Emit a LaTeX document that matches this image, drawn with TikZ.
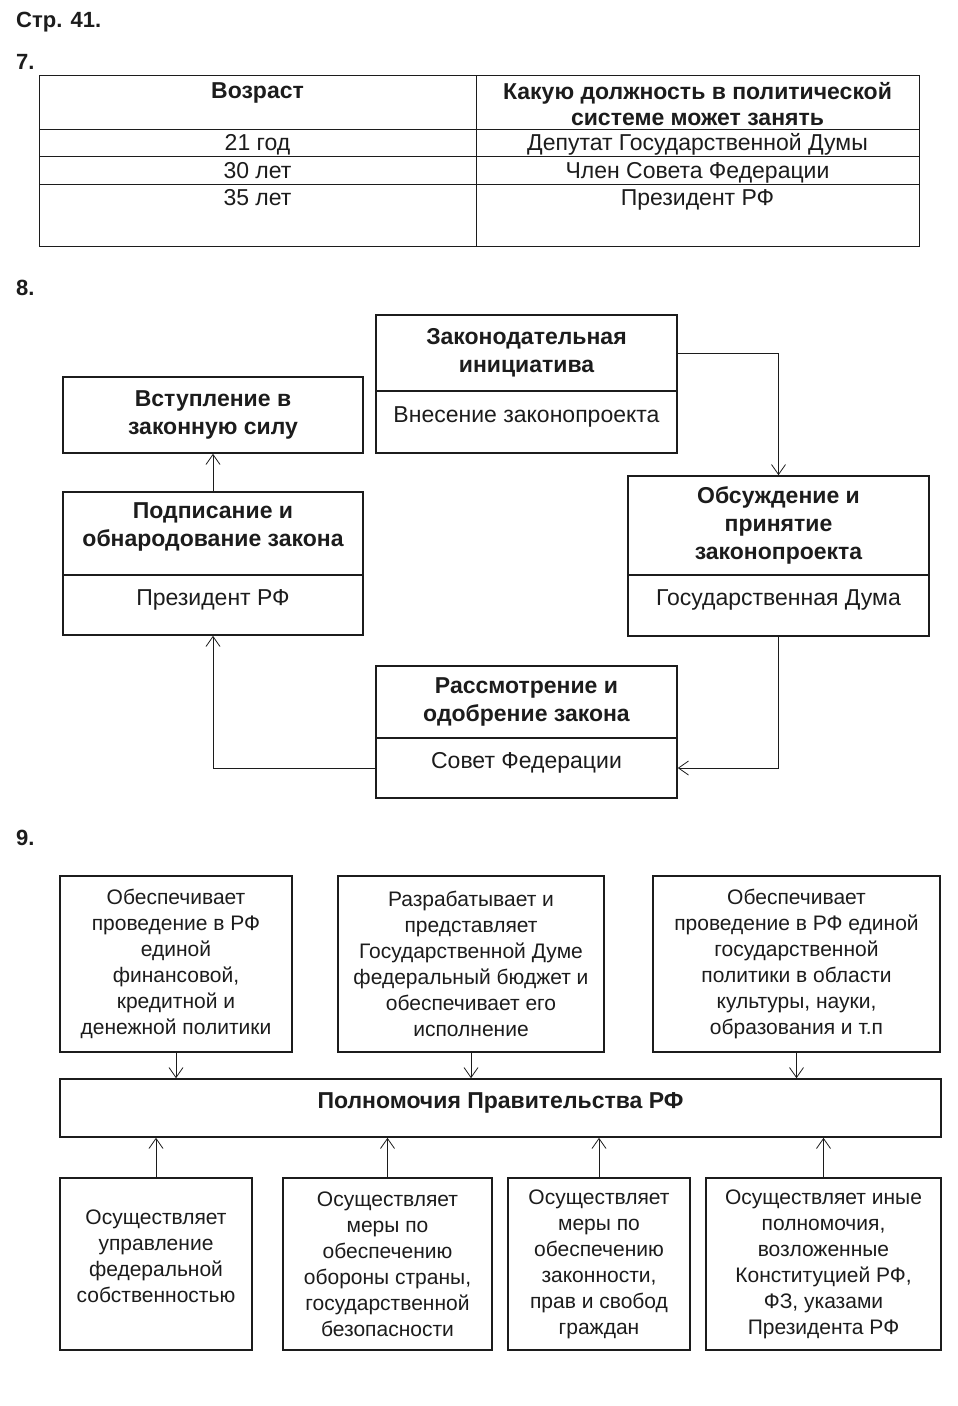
\documentclass[tikz,border=0pt]{standalone}
\usepackage{fontspec}
\setmainfont{Liberation Sans}
\usetikzlibrary{arrows.meta, positioning}
\definecolor{zink}{RGB}{28, 28, 28}

\begin{document}
\begin{tikzpicture}[x=1pt, y=-1pt,
  box/.style={rectangle, draw=zink, line width=1.6pt, inner sep=0pt,
              align=center, text=zink, font=\fontsize{23}{27}\selectfont},
  title/.style={box, font=\fontsize{23}{28}\selectfont\bfseries},
  body/.style={box, text height=16pt, text depth=16pt},
  duty/.style={box, font=\fontsize{21}{26}\selectfont},
  txt/.style={inner sep=0pt, align=center, text=zink, font=\fontsize{23}{27}\selectfont},
  cell/.style={txt, text height=16pt, text depth=5pt},
  head/.style={txt, font=\fontsize{23}{26}\selectfont\bfseries},
  num/.style={inner sep=0pt, anchor=west, text=zink, font=\fontsize{22}{25}\selectfont\bfseries},
  grid/.style={draw=zink, line width=1pt},
  arr/.style={-{Straight Barb[length=10pt, width=14pt]}, line width=0.8pt, draw=zink}
]
\useasboundingbox[fill=white] (0,0) rectangle (958,1406);

% page and task numbers
\node[num] (page) at (16,22) {Стр. 41.};
\node[num] (n7) at (16,62) {7.};
\node[num] (n8) at (16,288) {8.};
\node[num] (n9) at (16,838) {9.};

% task 7: table
\draw[grid] (39,75) rectangle (919,246);
\draw[grid] (476,75) -- (476,246);
\foreach \y in {129,156,184}
  \draw[grid] (39,\y) -- (919,\y);
\node[head, text height=16pt, text depth=5pt] (age) at (257.5,93) {Возраст};
\node[head] (post) at (697.5,104) {Какую должность в политической\\системе может занять};
\node[cell] (a21) at (257.5,145) {21 год};
\node[cell] (a30) at (257.5,173) {30 лет};
\node[cell] (a35) at (257.5,200) {35 лет};
\node[cell] (p21) at (697.5,145) {Депутат Государственной Думы};
\node[cell] (p30) at (697.5,173) {Член Совета Федерации};
\node[cell] (p35) at (697.5,200) {Президент РФ};

% task 8: how a law is passed
\node[title, minimum width=301pt, minimum height=76pt] (initT) at (526.5,353) {Законодательная\\инициатива};
\node[body, minimum width=301pt, minimum height=62pt] (initB) at (526.5,422) {Внесение законопроекта};
\node[title, minimum width=300pt, minimum height=76pt] (force) at (213,415) {Вступление в\\законную силу};
\node[box, minimum width=300pt, minimum height=83pt] (signT) at (213,533.5) {};
\node[head] (signL) at (213,527) {Подписание и\\[2pt]обнародование закона};
\node[body, minimum width=300pt, minimum height=60pt] (signB) at (213,605) {Президент РФ};
\node[title, minimum width=301pt, minimum height=99pt] (dumaT) at (778.5,525.5) {Обсуждение и\\принятие\\законопроекта};
\node[body, minimum width=301pt, minimum height=61pt] (dumaB) at (778.5,605.5) {Государственная Дума};
\node[title, minimum width=301pt, minimum height=72pt] (sovT) at (526.5,702) {Рассмотрение и\\одобрение закона};
\node[body, minimum width=301pt, minimum height=60pt] (sovB) at (526.5,768) {Совет Федерации};

\draw[arr] (initT.east) -| (dumaT.north);
\draw[arr] (dumaB.south) |- (sovB.east);
\draw[arr] (sovB.west) -| (signB.south);
\draw[arr] (signT.north) -- (force.south);

% task 9: powers of the government
\node[duty, minimum width=232pt, minimum height=176pt] (fin) at (176,964) {Обеспечивает\\проведение в РФ\\единой\\финансовой,\\кредитной и\\денежной политики};
\node[duty, minimum width=266pt, minimum height=176pt] (budget) at (471,964) {Разрабатывает и\\представляет\\Государственной Думе\\федеральный бюджет и\\обеспечивает его\\исполнение};
\node[duty, minimum width=287pt, minimum height=176pt] (culture) at (796.5,964) {Обеспечивает\\проведение в РФ единой\\государственной\\политики в области\\культуры, науки,\\образования и т.п};
\node[body, font=\fontsize{23}{26}\selectfont\bfseries, minimum width=881pt, minimum height=58pt] (gov) at (500.5,1108) {Полномочия Правительства РФ};
\node[duty, minimum width=192pt, minimum height=172pt] (prop) at (156,1264) {};
\node[txt, font=\fontsize{21}{26}\selectfont] (propL) at (156,1256) {Осуществляет\\управление\\федеральной\\собственностью};
\node[duty, minimum width=209pt, minimum height=172pt] (defence) at (387.5,1264) {Осуществляет\\меры по\\обеспечению\\обороны страны,\\государственной\\безопасности};
\node[duty, minimum width=182pt, minimum height=172pt] (rights) at (599,1264) {Осуществляет\\меры по\\обеспечению\\законности,\\прав и свобод\\граждан};
\node[duty, minimum width=235pt, minimum height=172pt] (other) at (823.5,1264) {Осуществляет иные\\полномочия,\\возложенные\\Конституцией РФ,\\ФЗ, указами\\Президента РФ};

\foreach \n in {fin, budget, culture}
  \draw[arr] (\n.south) -- (\n.south |- gov.north);
\foreach \n in {prop, defence, rights, other}
  \draw[arr] (\n.north) -- (\n.north |- gov.south);
\end{tikzpicture}
\end{document}
